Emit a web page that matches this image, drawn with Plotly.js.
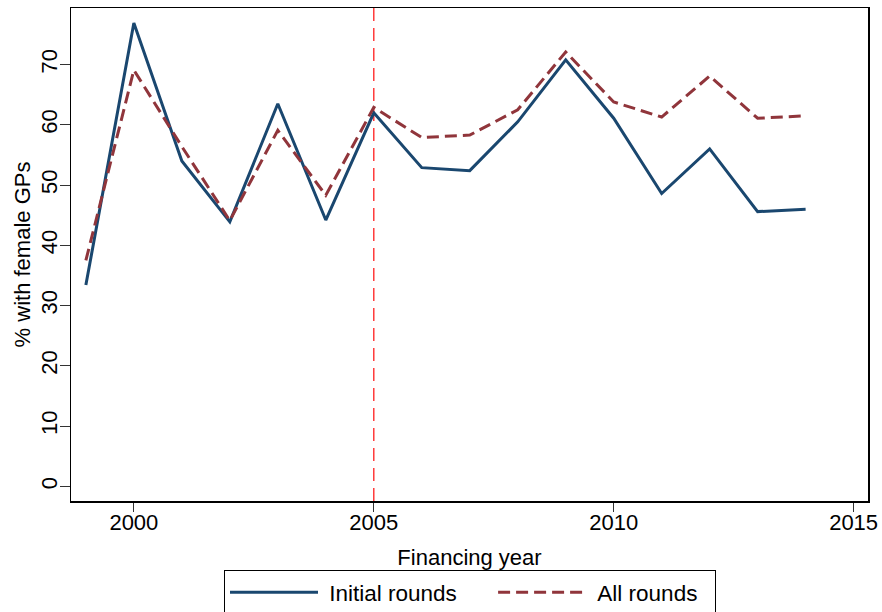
<!DOCTYPE html>
<html>
<head>
<meta charset="utf-8">
<script src="https://cdn.plot.ly/plotly-3.0.1.min.js"></script>
<style>
  html, body { margin: 0; padding: 0; background: #ffffff; }
  #chart { width: 882px; height: 612px; }
</style>
</head>
<body>
<div id="chart"></div>
<script>
// Share of financing deals with female GPs, by financing year
var years = [1999, 2000, 2001, 2002, 2003, 2004, 2005, 2006, 2007, 2008, 2009, 2010, 2011, 2012, 2013, 2014];
var initialRounds = [33.4, 76.9, 54.0, 43.9, 63.5, 44.2, 62.0, 52.9, 52.4, 60.5, 70.8, 61.1, 48.6, 56.0, 45.6, 46.0];
var allRounds = [37.5, 69.1, 56.4, 44.1, 59.1, 48.3, 62.9, 57.9, 58.3, 62.5, 72.1, 63.8, 61.3, 68.1, 61.1, 61.5];

var seriesNames = ["Initial rounds", "All rounds"];
var markerYear = 2005;
var xTicks = [2000, 2005, 2010, 2015];
var yTicks = [0, 10, 20, 30, 40, 50, 60, 70];

var FONT = "Liberation Sans, Arial, Helvetica, sans-serif";
var NBSP = "\u00a0";

// legend labels get a little breathing room around the text
function padded(name, before, after) {
  return NBSP.repeat(before) + name + NBSP.repeat(after);
}

var traces = [
  {
    x: years, y: initialRounds, name: padded(seriesNames[0], 1, 5),
    type: "scatter", mode: "lines",
    line: { color: "#1a476f", width: 3 }
  },
  {
    x: years, y: allRounds, name: padded(seriesNames[1], 1, 2),
    type: "scatter", mode: "lines",
    line: { color: "#90353b", width: 3, dash: "12px,6px" }
  }
];

var layout = {
  width: 882, height: 612,
  margin: { l: 71, r: 14, t: 8, b: 111 },
  paper_bgcolor: "#ffffff",
  plot_bgcolor: "#ffffff",
  font: { family: FONT, size: 22, color: "#000000" },
  showlegend: true,
  legend: {
    orientation: "h",
    xref: "container", yref: "container",
    x: 224 / 882, xanchor: "left",
    y: (612 - 570) / 612, yanchor: "top",
    bordercolor: "#000000", borderwidth: 1,
    font: { family: FONT, size: 22.5 },
    itemwidth: 88,
    bgcolor: "#ffffff"
  },
  xaxis: {
    range: [1998.69, 2015.30],
    tickmode: "array", tickvals: xTicks, ticktext: xTicks.map(String),
    ticks: "outside", ticklen: 9, tickwidth: 1, tickcolor: "#333333",
    ticklabelstandoff: -8,
    showline: true, linecolor: "#000000", linewidth: 1.5, mirror: true,
    showgrid: false, zeroline: false,
    tickfont: { family: FONT, size: 22 },
    title: { text: "Financing year", font: { family: FONT, size: 22 }, standoff: 23 },
    automargin: false
  },
  yaxis: {
    range: [-2.44, 79.4],
    tickmode: "array", tickvals: yTicks, ticktext: yTicks.map(String),
    tickangle: -90,
    ticks: "outside", ticklen: 10, tickwidth: 1, tickcolor: "#333333",
    ticklabelstandoff: -6,
    showline: true, linecolor: "#000000", linewidth: 1.5, mirror: true,
    showgrid: false, zeroline: false,
    tickfont: { family: FONT, size: 22 },
    title: { text: "% with female GPs", font: { family: FONT, size: 22 }, standoff: 0 },
    automargin: false
  },
  shapes: [
    {
      type: "line", xref: "x", yref: "paper",
      x0: markerYear, x1: markerYear, y0: 0, y1: 1,
      line: { color: "#ff3b3b", width: 1.5, dash: "13px,7px" },
      layer: "below"
    }
  ]
};

Plotly.newPlot("chart", traces, layout, { displayModeBar: false, staticPlot: true });
</script>
</body>
</html>
